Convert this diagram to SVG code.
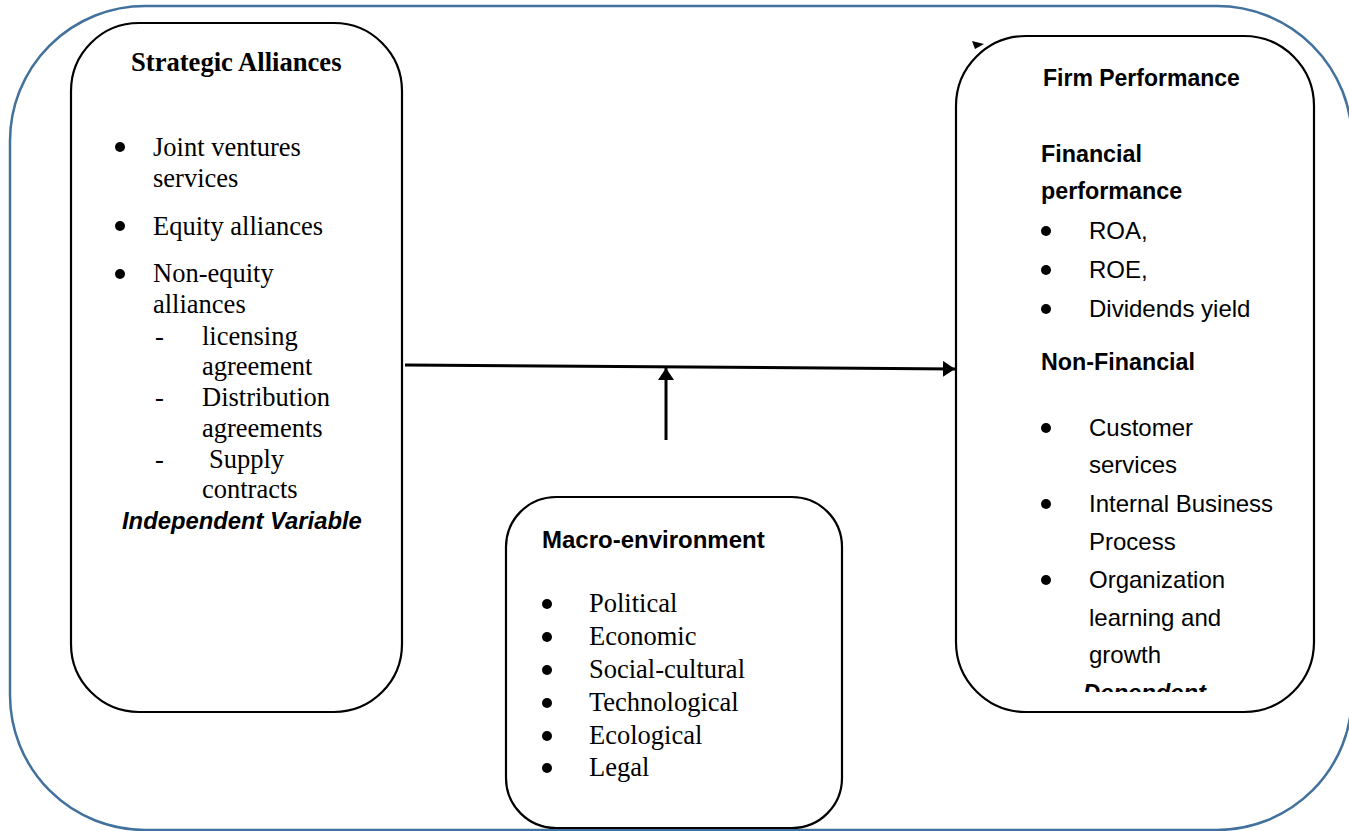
<svg xmlns="http://www.w3.org/2000/svg" width="1349" height="831" viewBox="0 0 1349 831">
<style>
.box{fill:#fff;stroke:#000;stroke-width:2.2}
.outer{fill:none;stroke:#41719C;stroke-width:2.5}
.tr{font-family:"Liberation Serif","Times New Roman",serif;font-size:26.5px;fill:#000}
.trb{font-family:"Liberation Serif","Times New Roman",serif;font-size:26.6px;font-weight:bold;fill:#000}
.sn{font-family:"Liberation Sans",Arial,sans-serif;font-size:24px;fill:#000}
.sb{font-family:"Liberation Sans",Arial,sans-serif;font-size:23.3px;font-weight:bold;fill:#000}
.sbi{font-family:"Liberation Sans",Arial,sans-serif;font-size:23.8px;font-weight:bold;font-style:italic;fill:#000}
.dot{fill:#000}
.conn{stroke:#000;stroke-width:3;fill:none}
</style>
<defs>
<marker id="ah" viewBox="0 0 12 16" refX="12" refY="8" markerWidth="12" markerHeight="16" markerUnits="userSpaceOnUse" orient="auto">
<path d="M0,0 L12,8 L0,16 Z" fill="#000"/>
</marker>
<clipPath id="clipDep"><rect x="956" y="36" width="358" height="656"/></clipPath>
</defs>
<rect class="outer" x="10" y="6" width="1342" height="824" rx="135" ry="135"/>
<g id="strategic-alliances">
<rect class="box" x="71" y="23" width="331" height="689" rx="68" ry="68"/>
<text class="trb" x="131" y="71">Strategic Alliances</text>
<circle class="dot" cx="120" cy="147" r="5"/>
<text class="tr" x="153" y="156">Joint ventures</text>
<text class="tr" x="153" y="187">services</text>
<circle class="dot" cx="120" cy="226" r="5"/>
<text class="tr" x="153" y="235">Equity alliances</text>
<circle class="dot" cx="120" cy="274" r="5"/>
<text class="tr" x="153" y="282">Non-equity</text>
<text class="tr" x="153" y="313">alliances</text>
<text class="tr" x="155" y="345">-</text>
<text class="tr" x="202" y="345">licensing</text>
<text class="tr" x="202" y="375">agreement</text>
<text class="tr" x="155" y="406">-</text>
<text class="tr" x="202" y="406">Distribution</text>
<text class="tr" x="202" y="437">agreements</text>
<text class="tr" x="155" y="468">-</text>
<text class="tr" x="209" y="468">Supply</text>
<text class="tr" x="202" y="498">contracts</text>
<text class="sbi" x="122" y="529">Independent Variable</text>
</g>
<g id="firm-performance">
<rect class="box" x="956" y="36" width="358" height="676" rx="70" ry="70"/>
<path d="M972,41 L984,44 L975,49 Z" fill="#000"/>
<text class="sb" x="1043" y="86" style="font-size:23px">Firm Performance</text>
<text class="sb" x="1041" y="162">Financial</text>
<text class="sb" x="1041" y="199">performance</text>
<circle class="dot" cx="1046" cy="231" r="5"/>
<text class="sn" x="1089" y="239">ROA,</text>
<circle class="dot" cx="1046" cy="270" r="5"/>
<text class="sn" x="1089" y="278">ROE,</text>
<circle class="dot" cx="1046" cy="309" r="5"/>
<text class="sn" x="1089" y="317">Dividends yield</text>
<text class="sb" x="1041" y="370">Non-Financial</text>
<circle class="dot" cx="1046" cy="428" r="5"/>
<text class="sn" x="1089" y="436">Customer</text>
<text class="sn" x="1089" y="473">services</text>
<circle class="dot" cx="1046" cy="504" r="5"/>
<text class="sn" x="1089" y="512">Internal Business</text>
<text class="sn" x="1089" y="550">Process</text>
<circle class="dot" cx="1046" cy="580" r="5"/>
<text class="sn" x="1089" y="588">Organization</text>
<text class="sn" x="1089" y="626">learning and</text>
<text class="sn" x="1089" y="663">growth</text>
<text class="sbi" x="1083" y="701" clip-path="url(#clipDep)">Dependent</text>
</g>
<g id="macro-environment">
<rect class="box" x="506" y="497" width="336" height="331" rx="50" ry="50"/>
<text class="sb" x="542" y="548" style="font-size:24px">Macro-environment</text>
<circle class="dot" cx="547" cy="604" r="5"/>
<text class="tr" x="589" y="612">Political</text>
<circle class="dot" cx="547" cy="637" r="5"/>
<text class="tr" x="589" y="645">Economic</text>
<circle class="dot" cx="547" cy="670" r="5"/>
<text class="tr" x="589" y="678">Social-cultural</text>
<circle class="dot" cx="547" cy="703" r="5"/>
<text class="tr" x="589" y="711">Technological</text>
<circle class="dot" cx="547" cy="736" r="5"/>
<text class="tr" x="589" y="744">Ecological</text>
<circle class="dot" cx="547" cy="768" r="5"/>
<text class="tr" x="589" y="776">Legal</text>
</g>
<g id="connectors">
<line class="conn" x1="405" y1="365" x2="955" y2="369" marker-end="url(#ah)"/>
<line class="conn" x1="666" y1="440" x2="666" y2="368" marker-end="url(#ah)"/>
</g>
</svg>
